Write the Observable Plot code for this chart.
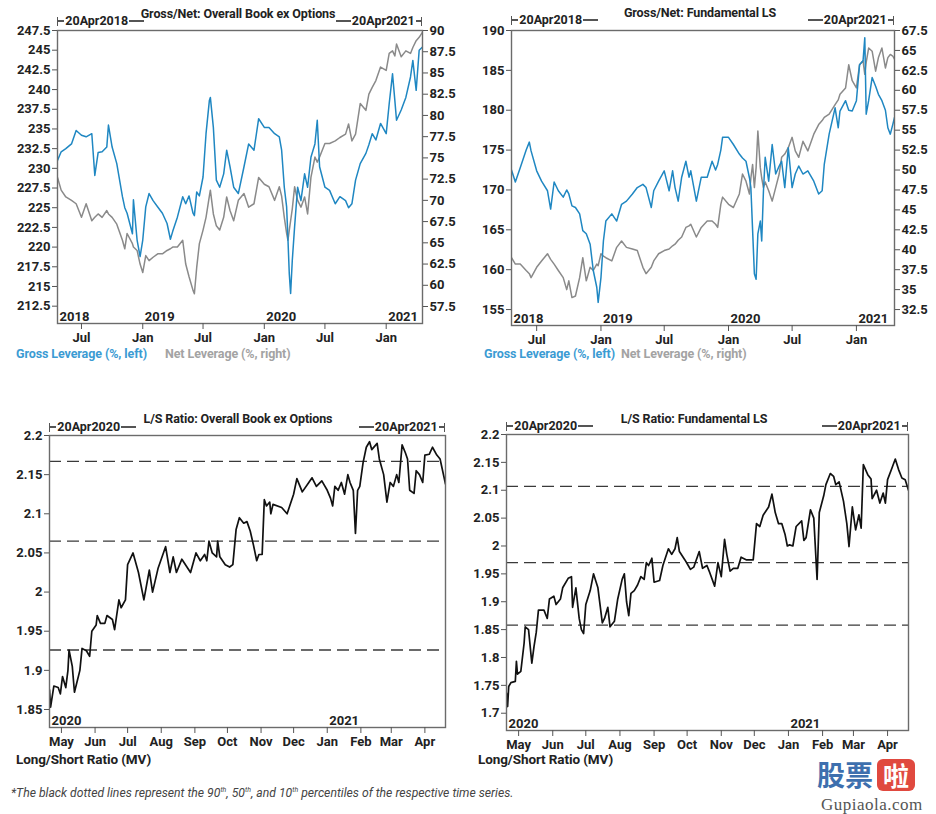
<!DOCTYPE html>
<html><head><meta charset="utf-8">
<script src="https://cdn.jsdelivr.net/npm/d3@7"></script>
<script src="https://cdn.jsdelivr.net/npm/@observablehq/plot@0.6"></script>
<style>
body{margin:0;background:#fff;}
#root{position:relative;width:936px;height:814px;overflow:hidden;font-family:Roboto,"DejaVu Sans",sans-serif;background:#fff;}
.abs{position:absolute;white-space:nowrap;line-height:1;}
.bracket{display:flex;align-items:center;height:14px;font-weight:700;font-size:12.5px;color:#222;}
.bracket .bar{width:1.3px;height:9px;background:#555;}
.bracket .seg{height:1.3px;background:#555;}
</style>
</head><body><div id="root"></div>
<script>
// ---------------- DATA ----------------
// Top-left: Gross/Net: Overall Book ex Options
const tlDates = ["2018-04-20","2018-05-01","2018-05-15","2018-06-01","2018-06-15","2018-07-01","2018-07-15","2018-08-01","2018-08-10","2018-08-20","2018-09-01","2018-09-15","2018-09-20","2018-10-01","2018-10-15","2018-11-01","2018-11-08","2018-11-15","2018-12-01","2018-12-04","2018-12-15","2018-12-24","2019-01-01","2019-01-10","2019-01-20","2019-02-01","2019-02-15","2019-03-01","2019-03-15","2019-03-25","2019-04-01","2019-04-15","2019-05-01","2019-05-10","2019-05-20","2019-06-01","2019-06-05","2019-06-12","2019-06-20","2019-07-01","2019-07-10","2019-07-20","2019-07-23","2019-08-01","2019-08-10","2019-08-20","2019-09-01","2019-09-10","2019-09-20","2019-10-01","2019-10-15","2019-11-01","2019-11-15","2019-12-01","2019-12-15","2020-01-01","2020-01-15","2020-02-01","2020-02-15","2020-02-22","2020-03-01","2020-03-08","2020-03-12","2020-03-16","2020-03-20","2020-03-25","2020-04-01","2020-04-10","2020-04-20","2020-05-01","2020-05-10","2020-05-20","2020-06-01","2020-06-08","2020-06-15","2020-07-01","2020-07-15","2020-08-01","2020-08-15","2020-09-01","2020-09-10","2020-09-20","2020-10-01","2020-10-15","2020-11-01","2020-11-10","2020-11-20","2020-12-01","2020-12-15","2021-01-01","2021-01-10","2021-01-20","2021-01-27","2021-02-01","2021-02-15","2021-03-01","2021-03-15","2021-03-22","2021-04-01","2021-04-10","2021-04-20"];
const tlGross = [231.0,232.1,232.5,233.1,234.8,234.2,234.0,234.4,229.1,232.0,232.1,232.7,235.5,232.7,230.6,226.4,225.0,224.3,221.7,226.0,220.9,218.8,220.9,225.1,226.8,225.9,225.1,224.3,223.0,221.0,222.0,223.8,226.4,225.5,226.5,224.3,224.0,227.0,226.5,228.9,234.4,238.6,239.0,235.2,228.5,227.6,229.3,232.3,230.2,227.6,226.8,230.2,233.1,232.3,236.3,235.2,235.2,234.4,234.0,232.3,227.6,225.1,221.0,216.6,214.1,218.3,222.6,227.6,225.9,229.3,227.6,231.4,233.1,236.1,230.2,227.6,227.2,225.5,226.4,225.9,225.0,225.5,228.5,230.6,231.9,233.0,234.4,233.6,235.7,234.4,238.2,242.0,238.6,236.1,237.4,239.0,241.6,243.7,239.9,245.0,245.4];
const tlNet = [72.7,71.2,70.4,70.0,69.6,68.0,69.6,67.6,68.0,68.4,68.0,68.8,68.4,68.0,67.2,65.3,64.3,66.1,64.9,64.5,64.1,62.5,61.5,63.5,62.9,63.3,63.7,63.7,64.1,64.3,64.5,64.5,65.3,62.5,61.0,59.4,59.0,62.1,64.9,66.5,68.0,70.5,71.2,68.4,67.0,66.5,68.0,70.4,68.8,67.6,70.0,70.8,69.2,69.6,72.7,71.9,71.6,70.0,71.6,70.5,68.0,66.1,65.3,66.5,67.6,69.0,71.6,70.0,69.2,70.4,68.4,72.7,75.1,74.5,75.1,76.7,76.7,77.0,77.4,77.8,79.0,77.0,77.8,81.4,80.6,82.5,83.3,84.1,85.7,85.3,87.3,87.6,87.0,88.4,86.9,87.6,87.3,88.0,88.8,89.2,89.8];
const tlLeftTicks = [212.5,215,217.5,220,222.5,225,227.5,230,232.5,235,237.5,240,242.5,245,247.5];
const tlRightTicks = [57.5,60,62.5,65,67.5,70,72.5,75,77.5,80,82.5,85,87.5,90];

// Top-right: Gross/Net: Fundamental LS
const trDates = ["2018-04-20","2018-05-01","2018-05-15","2018-06-01","2018-06-10","2018-06-15","2018-07-01","2018-07-15","2018-08-01","2018-08-10","2018-08-20","2018-09-01","2018-09-15","2018-09-25","2018-10-01","2018-10-10","2018-10-20","2018-11-01","2018-11-10","2018-11-20","2018-12-01","2018-12-10","2018-12-20","2018-12-24","2019-01-01","2019-01-08","2019-01-15","2019-02-01","2019-02-15","2019-03-01","2019-03-15","2019-04-01","2019-04-15","2019-05-01","2019-05-10","2019-05-25","2019-06-01","2019-06-15","2019-07-01","2019-07-15","2019-07-25","2019-08-01","2019-08-10","2019-08-20","2019-09-01","2019-09-10","2019-09-15","2019-10-01","2019-10-15","2019-11-01","2019-11-15","2019-11-25","2019-12-01","2019-12-10","2019-12-15","2020-01-01","2020-01-15","2020-02-01","2020-02-10","2020-02-20","2020-03-01","2020-03-05","2020-03-10","2020-03-15","2020-03-20","2020-03-25","2020-04-01","2020-04-05","2020-04-10","2020-04-15","2020-04-25","2020-05-05","2020-05-15","2020-05-25","2020-06-01","2020-06-10","2020-06-20","2020-07-01","2020-07-10","2020-07-20","2020-08-01","2020-08-15","2020-09-01","2020-09-15","2020-09-25","2020-10-01","2020-10-15","2020-11-01","2020-11-10","2020-11-15","2020-12-01","2020-12-10","2020-12-20","2021-01-01","2021-01-10","2021-01-20","2021-01-25","2021-01-29","2021-02-05","2021-02-15","2021-02-25","2021-03-05","2021-03-15","2021-03-25","2021-04-01","2021-04-08","2021-04-15","2021-04-20"];
const trGross = [172.5,171.0,172.8,175.0,176.0,174.9,172.4,171.1,169.9,167.6,171.0,169.9,169.1,170.0,169.5,168.0,167.8,167.0,164.9,164.5,163.2,159.9,157.8,155.9,159.0,163.6,166.1,167.0,166.1,168.2,168.6,169.5,170.3,170.7,170.3,167.8,169.9,171.1,172.4,169.9,172.4,170.3,168.6,171.6,173.6,171.6,172.4,168.6,171.6,171.6,173.6,172.5,173.2,175.0,176.6,176.6,175.7,174.5,174.0,173.6,171.5,170.3,164.9,159.5,158.8,164.5,166.1,163.6,169.9,174.1,171.1,175.7,172.0,173.0,173.6,170.3,175.3,170.3,172.0,173.0,172.0,172.4,171.1,169.5,169.9,173.2,177.0,180.3,177.8,179.9,181.2,180.0,179.9,181.2,185.7,186.2,189.1,179.5,181.2,184.1,183.0,182.0,181.2,180.0,177.8,177.0,178.2,179.1];
const trNet = [39.0,38.2,38.2,37.4,37.0,36.5,37.8,38.6,39.5,38.8,38.2,37.4,36.5,35.0,36.1,34.0,34.2,36.5,39.0,36.1,37.8,37.4,38.2,38.0,39.5,39.2,39.0,38.6,40.3,41.1,40.3,40.1,39.9,37.8,37.0,37.8,38.6,39.5,39.9,40.1,40.5,40.7,41.2,41.6,42.8,43.0,43.2,41.6,42.8,43.6,43.6,43.2,42.8,45.7,46.6,45.7,45.3,47.0,49.5,48.6,47.0,49.0,50.7,47.8,50.3,54.9,50.3,49.0,47.8,48.5,47.4,46.1,47.8,49.5,51.6,52.0,52.8,54.1,52.4,51.6,53.6,52.4,54.5,55.7,56.2,56.6,57.0,58.2,58.8,59.5,60.3,63.2,61.2,60.3,63.2,63.7,62.0,63.5,65.3,64.9,62.4,64.1,65.3,62.8,64.1,64.5,64.3,63.9];
const trLeftTicks = [155,160,165,170,175,180,185,190];
const trRightTicks = [32.5,35,37.5,40,42.5,45,47.5,50,52.5,55,57.5,60,62.5,65,67.5];

// Bottom-left: L/S Ratio: Overall Book ex Options
const blDates = ["2020-04-20","2020-04-21","2020-04-24","2020-04-28","2020-04-30","2020-05-02","2020-05-05","2020-05-07","2020-05-08","2020-05-11","2020-05-13","2020-05-18","2020-05-20","2020-05-24","2020-05-27","2020-05-29","2020-06-02","2020-06-03","2020-06-06","2020-06-10","2020-06-12","2020-06-17","2020-06-19","2020-06-23","2020-06-25","2020-06-29","2020-07-01","2020-07-06","2020-07-11","2020-07-16","2020-07-21","2020-07-24","2020-07-29","2020-08-05","2020-08-09","2020-08-12","2020-08-15","2020-08-20","2020-08-28","2020-09-02","2020-09-06","2020-09-10","2020-09-12","2020-09-14","2020-09-17","2020-09-21","2020-09-22","2020-09-24","2020-09-29","2020-10-03","2020-10-06","2020-10-09","2020-10-12","2020-10-16","2020-10-19","2020-10-22","2020-10-25","2020-10-28","2020-10-30","2020-11-02","2020-11-04","2020-11-06","2020-11-09","2020-11-10","2020-11-12","2020-11-20","2020-11-25","2020-12-01","2020-12-04","2020-12-09","2020-12-15","2020-12-18","2020-12-22","2020-12-27","2021-01-01","2021-01-04","2021-01-06","2021-01-08","2021-01-11","2021-01-14","2021-01-17","2021-01-20","2021-01-22","2021-01-25","2021-01-27","2021-01-29","2021-01-31","2021-02-03","2021-02-06","2021-02-09","2021-02-11","2021-02-16","2021-02-18","2021-02-22","2021-02-25","2021-02-28","2021-03-03","2021-03-06","2021-03-08","2021-03-11","2021-03-14","2021-03-16","2021-03-18","2021-03-22","2021-03-24","2021-03-27","2021-03-30","2021-04-01","2021-04-05","2021-04-08","2021-04-12","2021-04-15","2021-04-20"];
const blRatio = [1.875,1.853,1.880,1.878,1.870,1.892,1.878,1.900,1.926,1.905,1.872,1.900,1.928,1.925,1.918,1.950,1.958,1.970,1.960,1.960,1.970,1.965,1.952,1.990,1.980,1.990,2.035,2.050,2.025,1.990,2.028,2.000,2.030,2.058,2.025,2.045,2.025,2.042,2.025,2.050,2.040,2.048,2.040,2.065,2.050,2.045,2.065,2.045,2.035,2.032,2.035,2.080,2.095,2.088,2.090,2.078,2.060,2.040,2.048,2.048,2.118,2.110,2.115,2.100,2.112,2.108,2.100,2.125,2.145,2.128,2.140,2.146,2.135,2.142,2.130,2.120,2.110,2.135,2.130,2.140,2.125,2.150,2.140,2.130,2.075,2.130,2.135,2.165,2.185,2.192,2.182,2.190,2.170,2.150,2.115,2.140,2.135,2.150,2.140,2.188,2.178,2.170,2.130,2.126,2.155,2.150,2.140,2.175,2.176,2.185,2.175,2.170,2.138];
const blPercentiles = [2.167, 2.065, 1.926];
const blTicks = [1.85,1.9,1.95,2,2.05,2.1,2.15,2.2];

// Bottom-right: L/S Ratio: Fundamental LS
const brDates = ["2020-04-20","2020-04-21","2020-04-22","2020-04-24","2020-04-28","2020-04-29","2020-04-30","2020-05-03","2020-05-06","2020-05-07","2020-05-10","2020-05-13","2020-05-15","2020-05-17","2020-05-19","2020-05-24","2020-05-27","2020-05-29","2020-06-02","2020-06-04","2020-06-08","2020-06-10","2020-06-15","2020-06-18","2020-06-19","2020-06-22","2020-06-25","2020-06-27","2020-06-29","2020-07-01","2020-07-05","2020-07-08","2020-07-12","2020-07-16","2020-07-18","2020-07-21","2020-07-23","2020-07-27","2020-07-30","2020-08-03","2020-08-05","2020-08-07","2020-08-09","2020-08-11","2020-08-14","2020-08-17","2020-08-20","2020-08-23","2020-08-25","2020-08-27","2020-08-30","2020-09-01","2020-09-06","2020-09-09","2020-09-14","2020-09-17","2020-09-20","2020-09-22","2020-09-24","2020-09-29","2020-10-02","2020-10-04","2020-10-07","2020-10-12","2020-10-15","2020-10-19","2020-10-21","2020-10-26","2020-10-29","2020-11-01","2020-11-04","2020-11-06","2020-11-09","2020-11-12","2020-11-16","2020-11-19","2020-11-24","2020-11-30","2020-12-03","2020-12-06","2020-12-09","2020-12-14","2020-12-17","2020-12-20","2020-12-23","2020-12-26","2020-12-29","2020-12-31","2021-01-02","2021-01-05","2021-01-08","2021-01-13","2021-01-15","2021-01-17","2021-01-21","2021-01-24","2021-01-27","2021-01-29","2021-02-02","2021-02-04","2021-02-08","2021-02-11","2021-02-13","2021-02-16","2021-02-20","2021-02-23","2021-02-25","2021-02-28","2021-03-03","2021-03-06","2021-03-08","2021-03-10","2021-03-14","2021-03-17","2021-03-18","2021-03-22","2021-03-25","2021-03-28","2021-03-30","2021-04-01","2021-04-05","2021-04-08","2021-04-11","2021-04-14","2021-04-17","2021-04-20"];
const brRatio = [1.736,1.712,1.748,1.755,1.757,1.793,1.770,1.775,1.826,1.855,1.850,1.790,1.820,1.845,1.885,1.885,1.870,1.905,1.910,1.895,1.905,1.925,1.942,1.945,1.890,1.925,1.870,1.850,1.843,1.895,1.920,1.950,1.925,1.862,1.870,1.890,1.855,1.865,1.905,1.940,1.950,1.900,1.875,1.915,1.920,1.930,1.945,1.940,1.970,1.965,1.978,1.935,1.938,1.965,1.995,1.985,1.995,2.015,1.990,1.975,1.965,1.958,1.962,1.990,1.960,1.965,1.955,1.928,1.970,1.945,2.012,1.985,1.955,1.960,1.960,1.980,1.975,1.975,2.040,2.035,2.055,2.070,2.093,2.060,2.040,2.040,2.020,2.000,2.002,2.000,2.035,2.045,2.010,2.015,2.065,2.050,1.940,2.060,2.090,2.110,2.130,2.125,2.110,2.115,2.080,2.040,1.999,2.070,2.029,2.056,2.032,2.146,2.128,2.120,2.085,2.100,2.077,2.095,2.077,2.119,2.140,2.156,2.137,2.122,2.119,2.100];
const brPercentiles = [2.107, 1.970, 1.858];
const brTicks = [1.7,1.75,1.8,1.85,1.9,1.95,2,2.05,2.1,2.15,2.2];

const topMonthTicks = ["2018-07-01","2019-01-01","2019-07-01","2020-01-01","2020-07-01","2021-01-01"];
const topYears = [["2018-04-20","2018"],["2019-01-01","2019"],["2020-01-01","2020"],["2021-01-01","2021"]];
const botMonthTicks = ["2020-05-01","2020-06-01","2020-07-01","2020-08-01","2020-09-01","2020-10-01","2020-11-01","2020-12-01","2021-01-01","2021-02-01","2021-03-01","2021-04-01"];
const botYears = [["2020-04-20","2020"],["2021-01-01","2021"]];

// ---------------- DRAW ----------------
const root = document.getElementById("root");
const P = d3.utcParse("%Y-%m-%d");
const BLUE = "#1f87c2", GREY = "#8a8a8a";
const fmt = v => String(Math.round(v * 1000) / 1000);

function place(svg, left, top) {
  svg.style.position = "absolute";
  svg.style.left = left + "px";
  svg.style.top = top + "px";
  root.appendChild(svg);
}
function txt(html, x, y, style = {}) {
  const el = document.createElement("div");
  el.className = "abs";
  el.innerHTML = html;
  Object.assign(el.style, {left: x + "px", top: y + "px", transform: "translateY(-50%)"}, style);
  root.appendChild(el);
  return el;
}
function title(t, cx, cy) {
  txt(t, cx, cy, {transform: "translate(-50%,-50%)", fontWeight: "700", fontSize: "12.5px", color: "#222", letterSpacing: "-0.1px"});
}
function bracket(label, x, cy, side) {
  const el = document.createElement("div");
  el.className = "abs bracket";
  el.style.top = (cy - 7) + "px";
  const bar = '<span class="bar"></span>';
  const seg = w => `<span class="seg" style="width:${w}px"></span>`;
  const t = `<span style="padding:0 1px">${label}</span>`;
  if (side === "left") { el.innerHTML = bar + seg(6) + t + seg(15); el.style.left = x + "px"; }
  else { el.innerHTML = seg(15) + t + seg(5) + bar; el.style.right = (936 - x) + "px"; }
  root.appendChild(el);
}

function basePlot(o) {
  return Plot.plot({
    width: o.width, height: o.height,
    marginLeft: o.ml, marginRight: o.mr, marginTop: o.mt, marginBottom: o.mb,
    style: {fontFamily: "Roboto, sans-serif", fontSize: "13px", fontWeight: "700", color: "#222", background: "transparent", overflow: "visible"},
    x: {type: "utc", domain: o.xDomain},
    y: {domain: o.yDomain},
    marks: [
      ...o.marks,
      Plot.frame({stroke: "#6b6b6b", strokeWidth: 1.4}),
      Plot.axisX(o.monthTicks.map(P), {tickSize: 6, tickPadding: 3, tickFormat: d3.utcFormat("%b"), label: null, stroke: "#555"}),
      Plot.axisY(o.yTicks, {anchor: "left", tickSize: 5, tickPadding: 2, tickFormat: fmt, label: null, stroke: "#555"}),
      ...(o.extraAxes || []),
      Plot.text(o.years, {x: d => P(d[0]), text: d => d[1], frameAnchor: "bottom", lineAnchor: "bottom", textAnchor: "start", dx: 2, dy: -3, fill: "#222"})
    ]
  });
}

function dualPanel(cfg) {
  const [L0, L1] = cfg.left, [R0, R1] = cfg.right;
  const toL = v => L0 + (v - R0) * (L1 - L0) / (R1 - R0);
  const fromL = v => R0 + (v - L0) * (R1 - R0) / (L1 - L0);
  const rows = cfg.dates.map((d, i) => ({date: P(d), gross: cfg.gross[i], net: toL(cfg.net[i])}));
  const svg = basePlot({
    width: cfg.width, height: cfg.height, ml: cfg.ml, mr: cfg.mr, mt: cfg.mt, mb: cfg.mb,
    xDomain: [P(cfg.dates[0]), P(cfg.dates[cfg.dates.length - 1])],
    yDomain: cfg.left, yTicks: cfg.leftTicks, monthTicks: topMonthTicks, years: topYears,
    marks: [
      Plot.lineY(rows, {x: "date", y: "net", stroke: GREY, strokeWidth: 1.5, clip: true}),
      Plot.lineY(rows, {x: "date", y: "gross", stroke: BLUE, strokeWidth: 1.5, clip: true})
    ],
    extraAxes: [Plot.axisY(cfg.rightTicks.map(toL), {anchor: "right", tickSize: 5, tickPadding: 2, tickFormat: d => fmt(fromL(d)), label: null, stroke: "#555"})]
  });
  place(svg, cfg.x, cfg.y);
}

function ratioPanel(cfg) {
  const rows = cfg.dates.map((d, i) => ({date: P(d), v: cfg.values[i]}));
  const svg = basePlot({
    width: cfg.width, height: cfg.height, ml: cfg.ml, mr: cfg.mr, mt: cfg.mt, mb: cfg.mb,
    xDomain: [P("2020-04-20"), P("2021-04-20")],
    yDomain: cfg.yDomain, yTicks: cfg.ticks, monthTicks: botMonthTicks, years: botYears,
    marks: [
      Plot.ruleY(cfg.pct, {stroke: "#3a3a3a", strokeWidth: 1.3, strokeDasharray: "12,6"}),
      Plot.lineY(rows, {x: "date", y: "v", stroke: "#111", strokeWidth: 1.7, clip: true})
    ]
  });
  place(svg, cfg.x, cfg.y);
}

// Top-left
dualPanel({x: 0, y: 0, width: 466, height: 345, ml: 57, mr: 44, mt: 30, mb: 22,
  dates: tlDates, gross: tlGross, net: tlNet, left: [210.3, 247.5], right: [55.5, 90],
  leftTicks: tlLeftTicks, rightTicks: tlRightTicks});
// Top-right
dualPanel({x: 466, y: 0, width: 470, height: 345, ml: 45, mr: 42, mt: 30, mb: 20,
  dates: trDates, gross: trGross, net: trNet, left: [153, 190], right: [30.5, 67.5],
  leftTicks: trLeftTicks, rightTicks: trRightTicks});
// Bottom-left
ratioPanel({x: 0, y: 400, width: 466, height: 350, ml: 49, mr: 21, mt: 35, mb: 23,
  dates: blDates, values: blRatio, yDomain: [1.827, 2.2], ticks: blTicks, pct: blPercentiles});
// Bottom-right
ratioPanel({x: 466, y: 400, width: 470, height: 350, ml: 40, mr: 28, mt: 34, mb: 20,
  dates: brDates, values: brRatio, yDomain: [1.669, 2.2], ticks: brTicks, pct: brPercentiles});

// Titles and date brackets
title("Gross/Net: Overall Book ex Options", 238, 14);
bracket("20Apr2018", 57, 21, "left");
bracket("20Apr2021", 422, 21, "right");
title("Gross/Net: Fundamental LS", 700, 13);
bracket("20Apr2018", 511, 20, "left");
bracket("20Apr2021", 894, 20, "right");
title("L/S Ratio: Overall Book ex Options", 238, 419);
bracket("20Apr2020", 49, 427, "left");
bracket("20Apr2021", 445, 427, "right");
title("L/S Ratio: Fundamental LS", 694, 419);
bracket("20Apr2020", 506, 426, "left");
bracket("20Apr2021", 908, 426, "right");

// Legends / axis notes
const legStyle = {fontWeight: "700", fontSize: "12.5px", letterSpacing: "-0.1px"};
txt("Gross Leverage (%, left)", 16, 354, {...legStyle, color: "#3b9bd3"});
txt("Net Leverage (%, right)", 165, 354, {...legStyle, color: "#a3a3a3"});
txt("Gross Leverage (%, left)", 484, 354, {...legStyle, color: "#3b9bd3"});
txt("Net Leverage (%, right)", 621, 354, {...legStyle, color: "#a3a3a3"});
txt("Long/Short Ratio (MV)", 16, 760, {...legStyle, fontSize: "13.5px", color: "#222"});
txt("Long/Short Ratio (MV)", 478, 760, {...legStyle, fontSize: "13.5px", color: "#222"});

// Footnote
txt("*The black dotted lines represent the 90<sup style='font-size:7px'>th</sup>, 50<sup style='font-size:7px'>th</sup>, and 10<sup style='font-size:7px'>th</sup> percentiles of the respective time series.",
  11, 793, {fontStyle: "italic", fontSize: "12.2px", color: "#444"});

// Watermark (one text element, kept below the month labels)
txt("股票<span style='display:inline-block;margin-left:4px;color:#fff;background:#e0493f;border-radius:6px;padding:3px 6px;font-size:26px;line-height:1'>啦</span>",
  817, 775, {fontFamily: "'Noto Sans CJK SC'", fontWeight: "700", fontSize: "28px", color: "#3d6fae", lineHeight: "1"});
txt("Gupiaola.com", 821, 804, {fontFamily: "'Liberation Serif', serif", fontSize: "17px", color: "#555", letterSpacing: "0.5px"});
</script></body></html>
